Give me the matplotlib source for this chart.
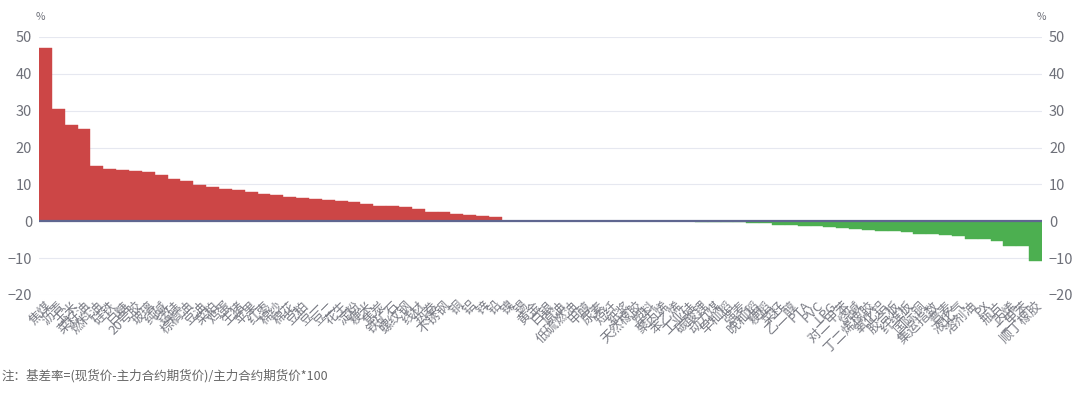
import numpy as np
import matplotlib
matplotlib.use('Agg')
import matplotlib.pyplot as plt

plt.rcParams['font.family'] = ['Noto Sans CJK SC', 'DejaVu Sans']

# commodity names (labels in the reference overlap and are mostly unreadable)
names = ['焦煤', '沥青', '玉米', '菜籽油', '燃料油', '硅铁', '白糖', '20号胶', '玻璃', '纯碱',
         '锰硅', '棕榈油', '豆油', '菜粕', '鸡蛋', '生猪', '苹果', '红枣', '棉纱', '棉花',
         '豆粕', '豆一', '豆二', '花生', '淀粉', '粳米', '焦炭', '铁矿石', '螺纹钢', '线材',
         '热卷', '不锈钢', '铜', '铝', '锌', '铅',
         '镍', '锡', '黄金', '白银', '原油', '低硫燃油', '甲醇', '尿素', '短纤', '纸浆',
         '天然橡胶', '塑料', '聚丙烯', '苯乙烯', '工业硅', '碳酸锂', '动力煤', '早籼稻',
         '强麦', '晚籼稻', '粳稻', '菜籽', '乙二醇', 'PTA', 'PVC', 'LPG', '对二甲苯', '烧碱',
         '丁二烯橡胶', '氧化铝', '胶合板', '纤维板', '国际铜', '集运指数', '普麦', '液化气',
         '溶剂油', 'PX', '瓶片', '丙烯', '二甲苯', '顺丁橡胶']

basis_pos = [47.1, 30.6, 26.0, 25.1, 15.1, 14.2, 14.0, 13.6, 13.4, 12.5,
             11.5, 11.0, 9.8, 9.3, 8.8, 8.6, 8.0, 7.3, 7.0, 6.6,
             6.2, 6.0, 5.7, 5.5, 5.1, 4.6, 4.1, 4.1, 3.8, 3.3,
             2.5, 2.4, 2.1, 1.6, 1.4, 1.2]
basis_flat = [0.08, 0.06, 0.05, 0.04, 0.03, 0.02, 0.02, 0.01, 0.0,
              0.0, -0.01, -0.02, -0.03, -0.04, -0.05, -0.07, -0.09, -0.12]
basis_neg = [-0.3, -0.5, -0.5, -0.9, -1.1, -1.3, -1.4, -1.5, -1.9, -2.0,
             -2.4, -2.5, -2.7, -2.9, -3.4, -3.4, -3.8, -4.0, -4.7, -4.9,
             -5.3, -6.6, -6.6, -10.9]
basis = basis_pos + basis_flat + basis_neg

RED = '#cc4646'
GREEN = '#4caf50'
GRAY = '#6e7079'
GRID = '#e6e8f0'

fig = plt.figure(figsize=(10.8, 4.05), dpi=100)
ax = fig.add_axes([39 / 1080, 1 - 295 / 405, (1042 - 39) / 1080, (295 - 37) / 405])

x = np.arange(len(basis))
colors = [RED if v > 0 else GREEN for v in basis]
ax.bar(x, basis, width=1.0, color=colors, edgecolor=colors, linewidth=0.3, zorder=2)
ax.axhline(0, color='#5f6690', lw=1.6, zorder=3)

ax.set_xlim(-0.5, len(basis) - 0.5)
ax.set_ylim(-20, 50)
yticks = [-20, -10, 0, 10, 20, 30, 40, 50]
ax.set_yticks(yticks)
ax.grid(axis='y', color=GRID, lw=0.8, zorder=0)
for s in ax.spines.values():
    s.set_visible(False)

ax.set_xticks(x)
ax.set_xticklabels(names, rotation=45, ha='right', va='top',
                   rotation_mode='anchor', fontsize=9.5, color='#7a7c85')
ax.tick_params(axis='x', length=0, pad=3)
ax.tick_params(axis='y', length=0, pad=5, labelsize=10.5, labelcolor=GRAY)

ax2 = ax.twinx()
ax2.set_ylim(-20, 50)
ax2.set_yticks(yticks)
for s in ax2.spines.values():
    s.set_visible(False)
ax2.tick_params(axis='y', length=0, pad=5, labelsize=10.5, labelcolor=GRAY)

fig.text(40 / 1080, 1 - 17 / 405, '%', fontsize=7.5, color=GRAY, ha='center', va='center')
fig.text(1041 / 1080, 1 - 17 / 405, '%', fontsize=7.5, color=GRAY, ha='center', va='center')

fig.text(0.001, 1 - 376 / 405, '注：基差率=(现货价-主力合约期货价)/主力合约期货价*100',
         fontsize=9, color='#666666', ha='left', va='center')

fig.savefig('out.png', dpi=100, facecolor='white')
